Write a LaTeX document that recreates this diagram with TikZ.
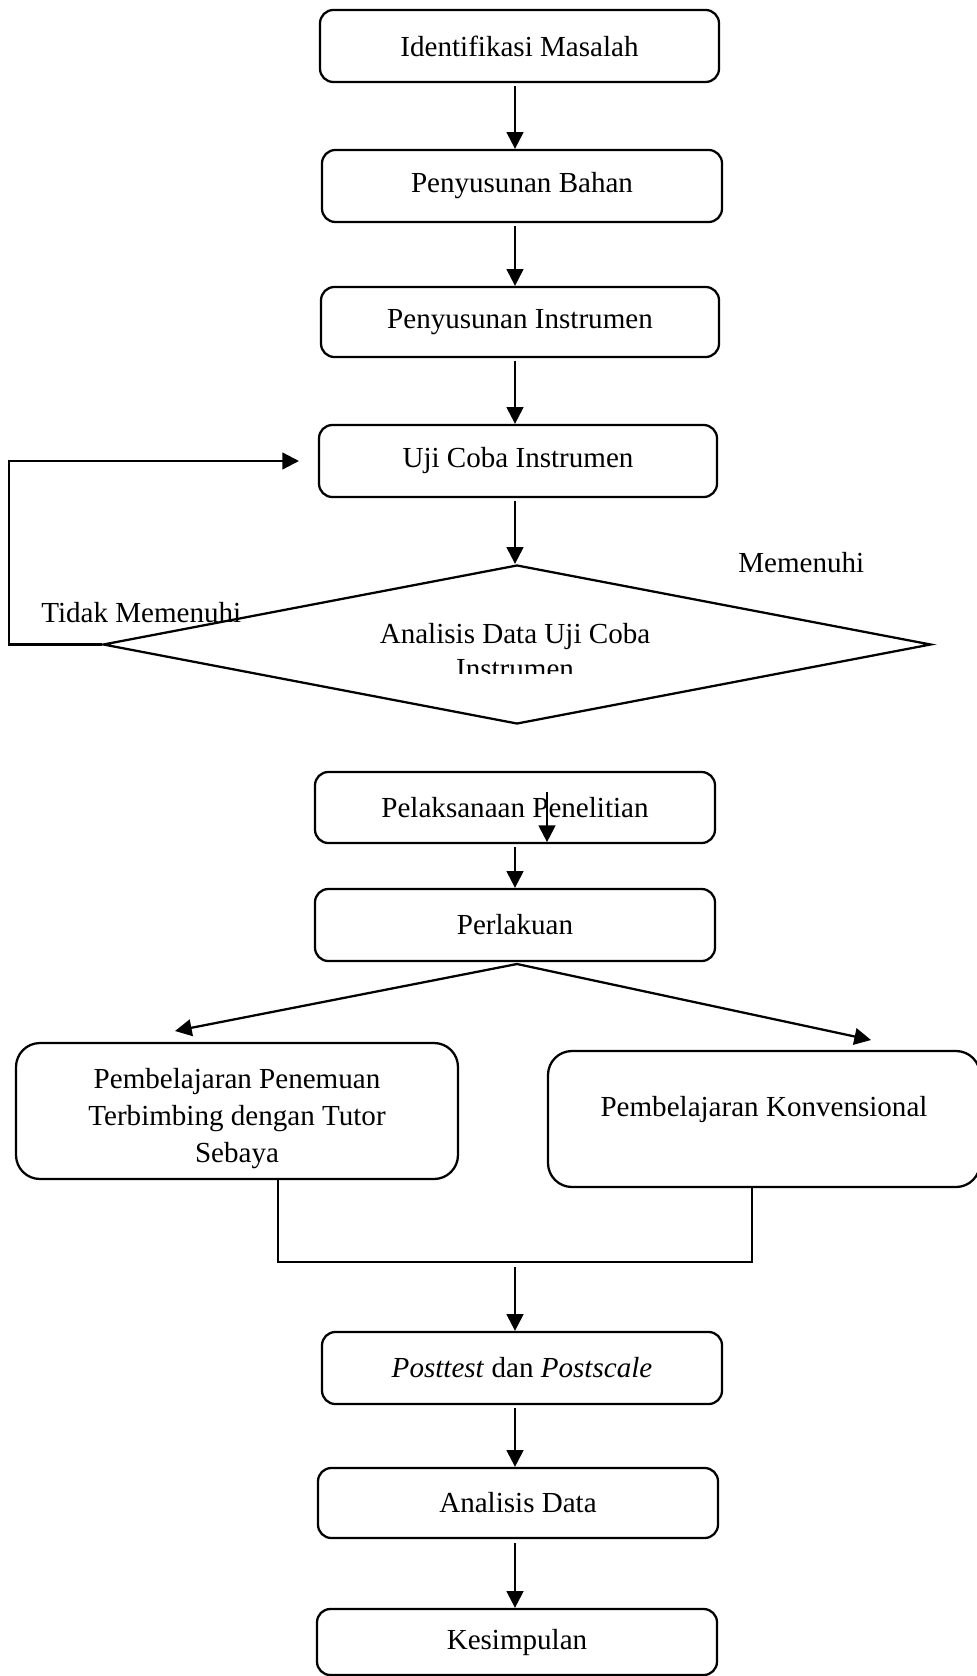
\documentclass[tikz,border=0pt]{standalone}
\usepackage{fontspec}
\setmainfont{Liberation Serif}
\usetikzlibrary{arrows.meta,shapes.geometric}
\begin{document}
\begin{tikzpicture}[x=0.75pt,y=-0.75pt,
  every node/.style={font=\fontsize{21.8}{27.75}\selectfont},
  box/.style={draw, rounded corners=10pt, line width=1.7pt, inner sep=0pt, align=center},
  bigbox/.style={box, rounded corners=18pt},
  arr/.style={line width=1.7pt, -{Triangle[length=12.5pt,width=12.5pt]}},
  ln/.style={line width=1.7pt}]
\useasboundingbox (0,0) rectangle (977,1676);
\fill[white] (0,0) rectangle (977,1676);

\node[box, minimum width=299.25pt, minimum height=54pt] (b1) at (519.5,46) {Identifikasi Masalah};
\node[box, minimum width=300pt, minimum height=54pt] (b2) at (522,186) {Penyusunan Bahan};
\node[box, minimum width=298.5pt, minimum height=52.5pt] (b3) at (520,322) {Penyusunan Instrumen};
\node[box, minimum width=298.5pt, minimum height=54pt] (b4) at (518,461) {Uji Coba Instrumen};
\node[draw, diamond, line width=1.7pt, minimum width=621pt, minimum height=119.25pt, inner sep=0pt] (dia) at (517,644.5) {};
\node[anchor=base] (dt1) at (515,643) {Analisis Data Uji Coba};
\begin{scope}
\clip (300,600) rectangle (730,673);
\node[anchor=base] (dt2) at (515,678) {Instrumen};
\end{scope}
\node[anchor=base west, inner sep=0pt] (tm) at (41,622) {Tidak Memenuhi};
\node[anchor=base west, inner sep=0pt] (mm) at (738,572) {Memenuhi};

\node[box, minimum width=300pt, minimum height=53.25pt] (b5) at (515,807.5) {Pelaksanaan Penelitian};
\node[box, minimum width=300pt, minimum height=54pt] (b6) at (515,925) {Perlakuan};
\node[bigbox, minimum width=331.5pt, minimum height=102pt] (b7) at (237,1111) {};
\node[align=center] (b7t) at (237,1119) {Pembelajaran Penemuan\\Terbimbing dengan Tutor\\Sebaya};
\node[bigbox, minimum width=324pt, minimum height=102pt] (b8) at (764,1119) {};
\node (b8t) at (764,1109) {Pembelajaran Konvensional};
\node[box, minimum width=300pt, minimum height=54pt] (b9) at (522,1368) {\textit{Posttest} dan \textit{Postscale}};
\node[box, minimum width=300pt, minimum height=52.5pt] (b10) at (518,1503) {Analisis Data};
\node[box, minimum width=300pt, minimum height=49.5pt] (b11) at (517,1642) {Kesimpulan};

\coordinate (ax) at (515,0);
\draw[arr, shorten <=2pt] (b1.south -| ax) -- (b2.north -| ax);
\draw[arr, shorten <=2pt] (b2.south -| ax) -- (b3.north -| ax);
\draw[arr, shorten <=2pt] (b3.south -| ax) -- (b4.north -| ax);
\draw[arr, shorten <=2pt] (b4.south -| ax) -- (dia.north -| ax);

\coordinate (lp) at (9,0);
\coordinate (lpend) at (299,0);
\draw[arr] (dia.west) -- (dia.west -| lp) -- (lp |- b4.west) -- (lpend |- b4.west);

\coordinate (s1) at (547,792);
\draw[arr] (s1) -- ([yshift=1.5pt]s1 |- b5.south);
\draw[arr, shorten <=2.5pt] (b5.south -| ax) -- (b6.north -| ax);

\coordinate (apex) at (517,964);
\coordinate (lt) at (175,1031);
\coordinate (rt) at (871,1040);
\draw[arr] (apex) -- (lt);
\draw[arr] (apex) -- (rt);

\coordinate (m1) at (278,1262);
\coordinate (m2) at (752,1262);
\coordinate (m3) at (515,1267);
\draw[ln] (b7.south -| m1) -- (m1) -- (m2) -- (b8.south -| m2);
\draw[arr] (m3) -- (b9.north -| m3);
\draw[arr, shorten <=2pt] (b9.south -| ax) -- (b10.north -| ax);
\draw[arr, shorten <=3pt] (b10.south -| ax) -- (b11.north -| ax);
\end{tikzpicture}
\end{document}
